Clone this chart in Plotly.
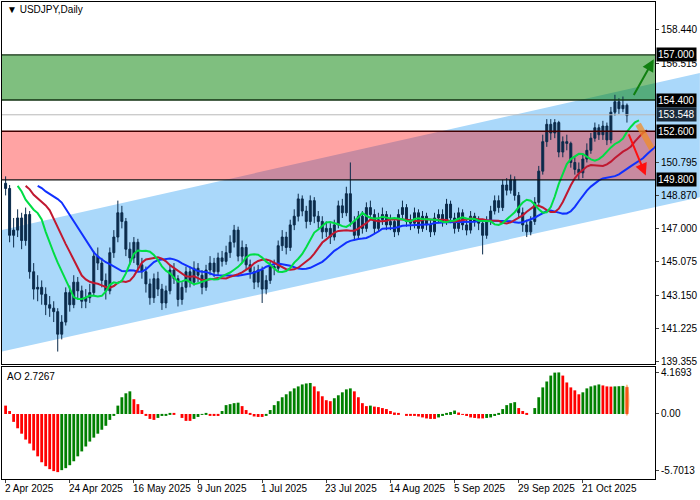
import plotly.graph_objects as go
import pandas as pd
import numpy as np

closes = [149.3,146.6,146.9,147.6,146.3,147.8,144.5,143.5,143.6,143.2,142.6,142.4,142.2,140.9,141.6,143.3,142.6,143.9,143.4,142.8,
143.0,143.3,145.4,145.0,144.0,143.4,145.6,146.5,147.9,147.4,145.8,145.3,146.2,144.9,144.5,143.8,143.0,144.1,143.5,142.7,
143.4,144.6,144.1,142.9,143.6,144.5,143.9,144.7,144.3,143.6,144.6,145.0,144.5,145.3,145.1,145.6,146.2,146.9,145.4,145.9,
144.9,144.5,143.9,144.6,143.5,144.0,144.8,144.7,146.0,146.5,145.9,147.2,147.7,148.7,148.0,147.4,148.6,147.7,147.4,146.8,
147.0,146.5,147.2,148.3,147.9,149.0,147.4,146.6,147.7,147.0,148.2,147.8,147.0,147.5,147.8,147.2,147.4,146.8,147.8,148.2,
147.4,147.3,147.9,147.0,147.7,147.2,146.8,147.6,147.8,147.4,148.4,147.6,147.0,147.9,147.2,146.9,147.7,147.4,147.3,146.6,
147.4,148.0,148.6,148.2,149.5,149.2,149.8,148.9,147.9,147.2,146.8,147.4,148.5,150.3,152.0,153.0,152.5,153.1,151.4,152.0,
151.9,150.8,150.4,150.2,151.0,151.5,152.2,152.8,152.4,152.9,152.1,153.7,154.3,153.9,154.1,153.5]
first_open = 149.6
highs = [150.0,149.5,147.6,148.1,147.9,148.2,148.0,145.0,144.3,144.0,143.6,143.1,142.8,142.4,142.0,143.6,143.7,144.3,144.2,143.7,
143.5,143.8,145.7,145.9,145.3,144.4,145.9,146.9,148.6,148.3,147.6,146.2,146.5,146.4,145.3,144.8,144.1,144.4,144.5,143.8,
143.7,144.9,145.0,144.3,143.9,144.8,144.8,145.1,145.0,144.6,144.9,145.4,145.3,145.6,145.7,146.0,146.6,147.2,147.1,146.3,
146.1,145.2,144.8,144.9,144.8,144.3,145.1,145.2,146.3,146.9,146.8,147.5,148.1,149.0,148.9,148.3,148.9,148.8,148.0,147.7,
147.4,147.3,147.5,148.6,148.7,149.4,150.8,147.7,148.0,148.0,148.5,148.6,148.1,147.9,148.2,148.0,147.8,147.6,148.1,148.6,
148.4,147.8,148.2,148.1,148.0,147.9,147.5,147.9,148.1,148.1,148.7,148.6,147.9,148.2,148.1,147.5,148.0,147.9,147.7,147.5,
147.7,148.3,148.9,148.9,149.8,149.9,150.1,150.0,149.1,148.2,147.5,147.7,148.8,150.6,152.4,153.3,153.3,153.3,153.2,152.3,
152.4,152.0,151.1,150.8,151.3,151.9,152.5,153.1,153.0,153.2,153.1,154.0,154.7,154.5,154.6,154.2]
lows = [148.9,146.2,145.9,146.5,145.8,146.0,144.1,142.9,142.8,142.6,142.0,141.9,141.6,139.9,140.6,141.4,142.2,142.4,142.9,142.4,
142.4,142.7,143.1,144.6,143.6,142.9,143.2,145.3,146.2,147.0,145.4,144.9,145.0,144.5,144.1,143.3,142.6,142.7,143.1,142.3,
142.4,143.2,143.8,142.5,142.6,143.3,143.6,143.7,143.9,143.2,143.4,144.3,144.2,144.3,144.8,144.9,145.3,145.9,145.1,145.0,
144.6,144.1,143.5,143.6,142.7,143.2,143.8,144.3,144.5,145.7,145.5,145.7,146.9,147.4,147.7,147.0,147.2,147.3,147.0,146.4,
146.5,146.1,146.3,147.0,147.6,147.7,147.1,146.3,146.4,146.7,146.8,147.5,146.7,146.8,147.2,146.9,146.9,146.5,146.6,147.5,
147.1,146.9,147.0,146.7,146.8,146.9,146.5,146.6,147.3,147.1,147.2,147.3,146.7,146.8,146.9,146.6,146.7,147.1,146.9,145.5,
146.4,147.2,147.8,147.9,148.0,148.9,149.0,148.6,147.6,146.8,146.5,146.6,147.2,148.3,150.1,151.7,152.1,152.2,151.1,151.1,
151.5,150.5,150.1,149.8,149.9,150.8,151.3,152.0,152.1,152.1,151.8,151.9,153.5,153.6,153.7,153.1]
ao = [0.85,0.3,-0.8,-1.45,-2.0,-2.6,-3.0,-3.7,-4.3,-4.9,-5.3,-5.6,-5.8,-5.9,-5.7,-5.5,-5.2,-4.8,-4.3,-3.8,
-3.3,-2.8,-2.4,-2.0,-1.6,-1.2,-0.6,-0.1,0.85,1.7,2.1,2.3,1.5,1.0,0.4,-0.1,-0.5,-0.6,-0.4,-0.2,
-0.1,0.05,0.05,0.0,-0.4,-0.7,-0.7,-0.5,-0.3,-0.05,0.1,-0.1,-0.2,-0.2,0.3,0.9,1.0,1.1,1.15,0.8,
0.4,0.05,-0.25,-0.3,-0.3,-0.1,0.4,0.9,1.3,1.7,2.0,2.3,2.6,2.8,3.0,3.1,3.15,2.8,2.3,1.8,
1.4,1.3,1.6,1.9,2.2,2.5,2.6,2.3,1.7,1.1,0.8,0.85,0.75,0.7,0.6,0.5,0.3,0.15,0.05,0.0,
-0.1,-0.1,-0.15,-0.25,-0.35,-0.45,-0.5,-0.5,-0.35,-0.2,0.05,0.2,0.35,0.15,-0.05,-0.2,-0.35,-0.4,-0.45,-0.45,
-0.4,-0.35,-0.2,0.1,0.5,0.9,1.1,1.2,0.6,0.3,0.05,0.0,0.6,1.7,2.7,3.3,3.9,4.2,4.22,3.9,
3.2,2.7,2.4,2.0,2.2,2.6,2.8,2.9,3.0,2.9,2.8,2.78,2.8,2.82,2.85,2.7267]
date_idx = [0,16,32,48,64,80,96,112,128,144]
date_txt = ["2 Apr 2025","24 Apr 2025","16 May 2025","9 Jun 2025","1 Jul 2025","23 Jul 2025",
            "14 Aug 2025","5 Sep 2025","29 Sep 2025","21 Oct 2025"]
price_ticks = [158.440,156.515,150.795,148.870,147.000,145.075,143.150,141.225,139.355]
levels = [157.000,154.400,153.548,152.600,149.800]

n = len(closes)
x = list(range(n))
opens = [first_open] + closes[:-1]
med = (pd.Series(highs) + pd.Series(lows)) / 2
def smma(s, p):
    return s.ewm(alpha=1/p, adjust=False).mean()
jaw = smma(med, 13); teeth = smma(med, 8); lips = smma(med, 5)

FONT = "Liberation Sans"
fig = go.Figure()
XR = [-0.9, 162.0]
x1p = 700/655
fig.add_shape(type="path", xref="paper", yref="y",
              path=f"M 0 146.9 L {x1p} 155.96 L {x1p} 148.8 L 0 139.9 Z",
              fillcolor="#aad8fa", line=dict(width=0), layer="below")
fig.add_shape(type="rect", xref="paper", yref="y", x0=0, x1=1, y0=154.4, y1=157.0,
              fillcolor="rgba(0,128,0,0.5)", line=dict(width=0), layer="below")
fig.add_shape(type="rect", xref="paper", yref="y", x0=0, x1=1, y0=149.8, y1=152.6,
              fillcolor="rgba(255,0,0,0.36)", line=dict(width=0), layer="below")
for lv, c in [(157.0, "#103010"), (154.4, "#103010"), (152.6, "#400000"), (149.8, "#101010")]:
    fig.add_shape(type="line", xref="paper", yref="y", x0=0, x1=1, y0=lv, y1=lv,
                  line=dict(color=c, width=1.3))
fig.add_shape(type="line", xref="paper", yref="y", x0=0, x1=1, y0=153.548, y1=153.548,
              line=dict(color="#b8b8b8", width=1))

fig.add_trace(go.Candlestick(x=x, open=opens, high=highs, low=lows, close=closes,
    increasing=dict(line=dict(color="#0b2b4b", width=1), fillcolor="#0b2b4b"),
    decreasing=dict(line=dict(color="#0b2b4b", width=1), fillcolor="#0b2b4b"),
    whiskerwidth=0, xaxis="x", yaxis="y", showlegend=False))
for s, sh, col in [(jaw, 8, "#1030ff"), (teeth, 5, "#c01830"), (lips, 3, "#00dd44")]:
    fig.add_trace(go.Scatter(x=[i + sh for i in x], y=s, mode="lines",
                  line=dict(color=col, width=2), xaxis="x", yaxis="y", showlegend=False))

cols = ["#ff0000"] + ["#008000" if ao[i] > ao[i-1] else "#ff0000" for i in range(1, n)]
fig.add_trace(go.Bar(x=x, y=ao, marker=dict(color=cols, line=dict(width=0)), width=0.7,
                     xaxis="x2", yaxis="y2", showlegend=False))
fig.add_shape(type="circle", xref="x2", yref="y2", x0=n-1.6, x1=n-0.4, y0=-0.2, y1=3.0,
              fillcolor="rgba(240,140,40,0.6)", line=dict(width=0))

fig.add_annotation(x=161.7, y=156.75, ax=156.5, ay=154.6, xref="x", yref="y", axref="x", ayref="y",
                   text="", showarrow=True, arrowhead=2, arrowsize=1.2, arrowwidth=2, arrowcolor="#108010")
fig.add_annotation(x=159.7, y=150.05, ax=155.3, ay=152.5, xref="x", yref="y", axref="x", ayref="y",
                   text="", showarrow=True, arrowhead=2, arrowsize=1.2, arrowwidth=2, arrowcolor="#ff1010")
fig.add_shape(type="line", xref="x", yref="y", x0=157.8, y0=153.0, x1=161.2, y1=151.6,
              line=dict(color="rgba(240,140,40,0.75)", width=6))

for lv in levels:
    fig.add_annotation(x=1, y=lv, xref="paper", yref="y", xanchor="left", text=f"{lv:.3f}",
                       showarrow=False, bgcolor="#000000" if lv != 153.548 else "#1a2a3a",
                       font=dict(color="white", size=10, family=FONT),
                       borderpad=1, xshift=1)
fig.add_annotation(x=0.005, y=1, xref="paper", yref="paper", xanchor="left", yanchor="top",
                   text="▼ USDJPY,Daily", showarrow=False, font=dict(size=10, color="black"))
fig.add_annotation(x=0.005, y=0.235, xref="paper", yref="paper", xanchor="left", yanchor="top",
                   text="AO 2.7267", showarrow=False, font=dict(size=10, color="black"), yshift=-2)
for i, t in zip(date_idx, date_txt):
    fig.add_annotation(x=i, y=0, xref="x2", yref="paper", xanchor="left", yanchor="top",
                       text=t, showarrow=False, yshift=-2, xshift=-3, font=dict(size=10, color="black"))

ax_common = dict(showgrid=False, zeroline=False, showline=True, linecolor="black", mirror=True,
                 linewidth=1, automargin=False)
fig.update_layout(
    width=700, height=500, margin=dict(l=2, r=45, t=2, b=21),
    paper_bgcolor="white", plot_bgcolor="white",
    font=dict(family=FONT, size=10, color="black"),
    xaxis=dict(range=XR, domain=[0, 1], anchor="y", showticklabels=False, ticks="",
               rangeslider=dict(visible=False), **ax_common),
    yaxis=dict(range=[139.18, 160.05], domain=[0.241, 1], side="right", tickvals=price_ticks,
               ticktext=[f"{v:.3f}" for v in price_ticks], ticks="outside", ticklen=3, **ax_common),
    xaxis2=dict(range=XR, domain=[0, 1], anchor="y2", showticklabels=False,
                tickvals=date_idx, ticks="outside", ticklen=3, **ax_common),
    yaxis2=dict(range=[-6.6, 4.78], domain=[0, 0.235], side="right", tickvals=[4.1693, 0, -5.7013],
                ticktext=["4.1693", "0.00", "-5.7013"], ticks="outside", ticklen=3, **ax_common),
    bargap=0.2,
)
fig.write_html("out.html", config={"displayModeBar": False},
               post_script="document.body.style.margin='0';")
